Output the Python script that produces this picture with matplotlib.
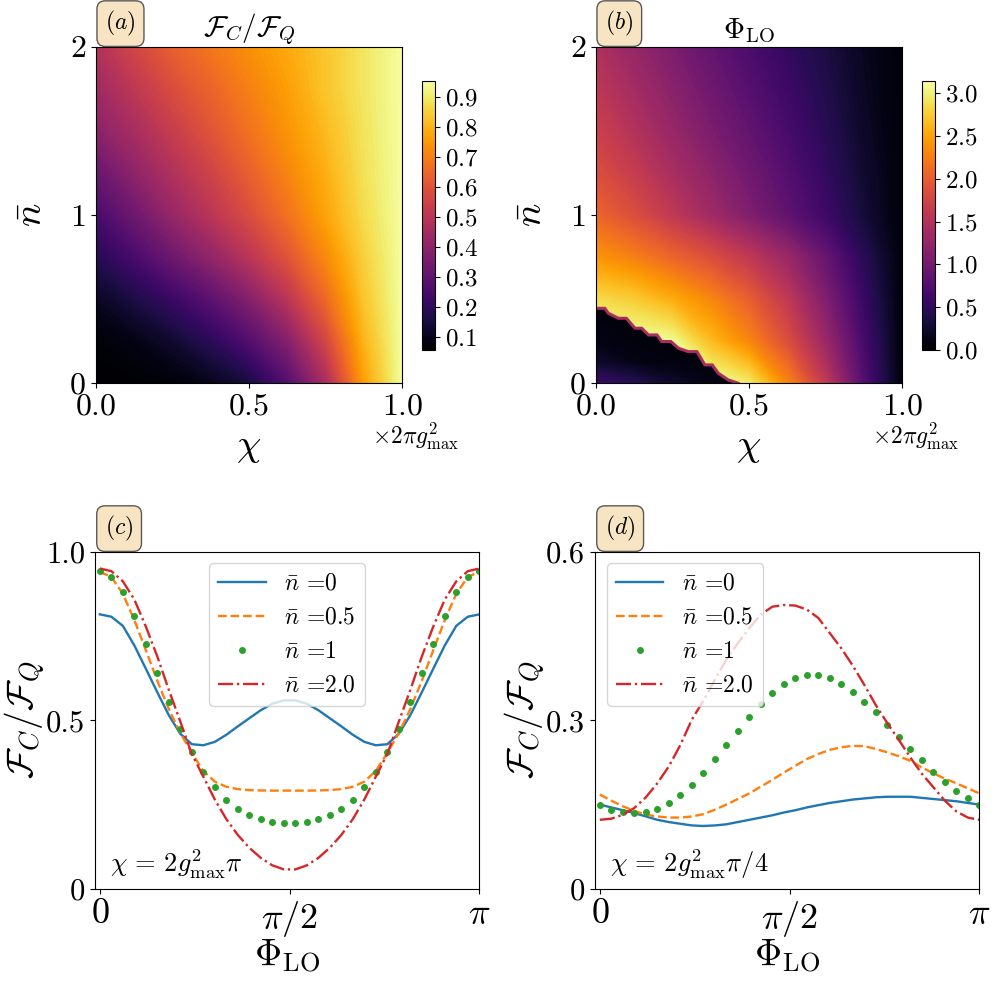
import numpy as np
import matplotlib
matplotlib.use('Agg')
import matplotlib.pyplot as plt
from matplotlib.patches import Polygon
from matplotlib.colors import Normalize
from matplotlib.cm import ScalarMappable

plt.rcParams['font.family'] = 'serif'
plt.rcParams['font.serif'] = ['cmr10']
plt.rcParams['mathtext.fontset'] = 'cm'
plt.rcParams['axes.unicode_minus'] = False
plt.rcParams['axes.formatter.use_mathtext'] = True

# ---- heat maps: values read on a coarse grid (rows = nbar, cols = chi)
chi = np.array([0, 0.125, 0.25, 0.375, 0.5, 0.625, 0.75, 0.875, 1.0])
nbar = np.array([0, 0.25, 0.5, 0.75, 1.0, 1.25, 1.5, 1.75, 2.0])

ratio_map = np.array([
    [0.058, 0.060, 0.070, 0.100, 0.150, 0.270, 0.460, 0.760, 0.945],
    [0.070, 0.090, 0.130, 0.190, 0.270, 0.380, 0.560, 0.800, 0.945],
    [0.110, 0.160, 0.220, 0.290, 0.380, 0.500, 0.650, 0.830, 0.945],
    [0.180, 0.250, 0.330, 0.410, 0.500, 0.600, 0.720, 0.850, 0.945],
    [0.250, 0.330, 0.420, 0.500, 0.580, 0.670, 0.770, 0.870, 0.945],
    [0.320, 0.400, 0.480, 0.550, 0.630, 0.710, 0.790, 0.880, 0.945],
    [0.390, 0.460, 0.530, 0.600, 0.670, 0.740, 0.810, 0.885, 0.945],
    [0.440, 0.510, 0.580, 0.640, 0.700, 0.760, 0.830, 0.890, 0.945],
    [0.480, 0.560, 0.630, 0.680, 0.730, 0.780, 0.830, 0.890, 0.945],
])

phase_map = np.array([
    [3.14, 3.14, 3.14, 3.14, 2.95, 2.30, 1.60, 0.75, 0.05],
    [3.14, 3.14, 3.08, 2.65, 2.30, 1.85, 1.30, 0.65, 0.05],
    [2.85, 2.75, 2.55, 2.30, 2.00, 1.60, 1.10, 0.55, 0.05],
    [2.40, 2.25, 2.05, 1.85, 1.60, 1.30, 0.90, 0.45, 0.05],
    [2.05, 1.85, 1.60, 1.35, 1.10, 0.85, 0.60, 0.30, 0.04],
    [1.85, 1.65, 1.42, 1.20, 0.98, 0.76, 0.52, 0.26, 0.04],
    [1.70, 1.50, 1.28, 1.07, 0.87, 0.67, 0.45, 0.22, 0.03],
    [1.58, 1.38, 1.17, 0.97, 0.78, 0.59, 0.40, 0.19, 0.03],
    [1.47, 1.27, 1.07, 0.88, 0.70, 0.52, 0.35, 0.17, 0.03],
])

# region below the phase jump in (b)
chi_low = np.array([0, 0.125, 0.25, 0.375, 0.5])
nbar_low = np.array([0, 0.125, 0.25, 0.375, 0.5])
phase_low = np.array([
    [0.60, 0.45, 0.25, 0.12, 0.08],
    [0.25, 0.12, 0.08, 0.07, 0.07],
    [0.12, 0.07, 0.06, 0.06, 0.06],
    [0.08, 0.06, 0.06, 0.06, 0.06],
    [0.08, 0.06, 0.06, 0.06, 0.06],
])
# jagged edge of the jump, read along the staircase
edge_chi = [0.0, 0.030, 0.041, 0.074, 0.100, 0.128, 0.150, 0.172, 0.200, 0.215, 0.245,
            0.270, 0.302, 0.330, 0.356, 0.380, 0.400, 0.432, 0.465]
edge_nbar = [0.445, 0.445, 0.416, 0.386, 0.386, 0.327, 0.327, 0.287, 0.287, 0.248, 0.248,
             0.208, 0.188, 0.188, 0.109, 0.109, 0.059, 0.020, 0.0]

# ---- line cuts
phi = np.linspace(0, np.pi, 34)

c_n0 = [0.814, 0.807, 0.780, 0.722, 0.653, 0.583, 0.515, 0.460, 0.429, 0.426, 0.436, 0.457,
        0.482, 0.506, 0.530, 0.549, 0.559, 0.559, 0.549, 0.530, 0.506, 0.482, 0.457, 0.436,
        0.426, 0.429, 0.460, 0.515, 0.583, 0.653, 0.722, 0.780, 0.807, 0.814]
c_n05 = [0.940, 0.925, 0.875, 0.797, 0.708, 0.617, 0.533, 0.462, 0.403, 0.350, 0.318, 0.303,
         0.296, 0.293, 0.292, 0.2915, 0.2915, 0.2915, 0.2915, 0.292, 0.293, 0.296, 0.303, 0.318,
         0.350, 0.403, 0.462, 0.533, 0.617, 0.708, 0.797, 0.875, 0.925, 0.940]
c_n1 = [0.943, 0.926, 0.879, 0.810, 0.727, 0.639, 0.553, 0.473, 0.405, 0.348, 0.301, 0.264,
        0.237, 0.219, 0.207, 0.199, 0.195, 0.195, 0.199, 0.207, 0.219, 0.237, 0.264, 0.301,
        0.348, 0.405, 0.473, 0.553, 0.639, 0.727, 0.810, 0.879, 0.926, 0.943]
c_n2 = [0.950, 0.942, 0.912, 0.858, 0.778, 0.689, 0.590, 0.496, 0.400, 0.333, 0.265, 0.207,
        0.160, 0.122, 0.092, 0.070, 0.058, 0.058, 0.070, 0.092, 0.122, 0.160, 0.207, 0.265,
        0.333, 0.400, 0.496, 0.590, 0.689, 0.778, 0.858, 0.912, 0.942, 0.950]

d_n0 = [0.150, 0.145, 0.140, 0.135, 0.129, 0.123, 0.119, 0.116, 0.113, 0.112, 0.113, 0.115,
        0.119, 0.123, 0.127, 0.131, 0.136, 0.140, 0.145, 0.149, 0.153, 0.156, 0.159, 0.161,
        0.163, 0.164, 0.164, 0.164, 0.162, 0.160, 0.158, 0.156, 0.153, 0.150]
d_n05 = [0.168, 0.157, 0.147, 0.139, 0.132, 0.129, 0.127, 0.127, 0.129, 0.133, 0.141, 0.150,
         0.160, 0.170, 0.182, 0.194, 0.207, 0.219, 0.231, 0.240, 0.2475, 0.252, 0.2545, 0.254,
         0.249, 0.243, 0.236, 0.228, 0.216, 0.206, 0.196, 0.188, 0.179, 0.170]
d_n1 = [0.149, 0.1405, 0.136, 0.1346, 0.136, 0.142, 0.1535, 0.168, 0.185, 0.207, 0.231, 0.2555,
        0.2816, 0.306, 0.329, 0.349, 0.365, 0.375, 0.381, 0.381, 0.375, 0.365, 0.350, 0.333,
        0.314, 0.292, 0.270, 0.2496, 0.229, 0.2087, 0.191, 0.175, 0.161, 0.149]
d_n2 = [0.123, 0.125, 0.132, 0.144, 0.163, 0.188, 0.218, 0.256, 0.301, 0.335, 0.372, 0.408,
        0.437, 0.464, 0.488, 0.502, 0.505, 0.504, 0.497, 0.482, 0.455, 0.428, 0.397, 0.363,
        0.327, 0.295, 0.265, 0.234, 0.205, 0.181, 0.157, 0.138, 0.127, 0.123]

labels = [r'$\bar{n}$ =0', r'$\bar{n}$ =0.5', r'$\bar{n}$ =1', r'$\bar{n}$ =2.0']

fig = plt.figure(figsize=(10, 9.85), dpi=100)
ax_a = fig.add_axes([0.0957, 0.6109, 0.3067, 0.3418])
cax_a = fig.add_axes([0.4217, 0.6447, 0.0133, 0.2731])
ax_b = fig.add_axes([0.5957, 0.6109, 0.3067, 0.3418])
cax_b = fig.add_axes([0.9217, 0.6447, 0.0133, 0.2731])
ax_c = fig.add_axes([0.095, 0.0975, 0.3843, 0.3425])
ax_d = fig.add_axes([0.595, 0.0975, 0.3843, 0.3425])

box = dict(boxstyle='round,pad=0.35', facecolor='wheat', edgecolor='0.2', alpha=0.8)

# (a)
norm_a = Normalize(0.058, 0.952)
ax_a.contourf(chi, nbar, ratio_map, levels=np.linspace(0.058, 0.952, 120), cmap='inferno', norm=norm_a)
cb = fig.colorbar(ScalarMappable(norm_a, 'inferno'), cax=cax_a)
cb.set_ticks(np.arange(0.1, 0.95, 0.1))
cb.ax.tick_params(labelsize=18)
ax_a.set_title(r'$\mathcal{F}_C/\mathcal{F}_Q$', fontsize=21)

# (b)
norm_b = Normalize(0, np.pi)
ax_b.contourf(chi, nbar, phase_map, levels=np.linspace(0, np.pi, 120), cmap='inferno', norm=norm_b)
low = ax_b.contourf(chi_low, nbar_low, phase_low, levels=np.linspace(0, np.pi, 120), cmap='inferno', norm=norm_b)
clip = Polygon(list(zip([0.0] + edge_chi, [0.0] + edge_nbar)), closed=True, transform=ax_b.transData)
low.set_clip_path(clip)
ax_b.plot(edge_chi, edge_nbar, color=plt.cm.inferno(0.45), lw=2.2, solid_joinstyle='miter')
cb = fig.colorbar(ScalarMappable(norm_b, 'inferno'), cax=cax_b)
cb.set_ticks(np.arange(0, 3.1, 0.5))
cb.ax.tick_params(labelsize=18)
ax_b.set_title(r'$\Phi_{\rm LO}$', fontsize=21)

for ax, tag in [(ax_a, '(a)'), (ax_b, '(b)')]:
    ax.set_xlim(0, 1)
    ax.set_ylim(0, 2)
    ax.set_xticks([0, 0.5, 1.0])
    ax.set_yticks([0, 1, 2])
    ax.tick_params(labelsize=23)
    ax.set_xlabel(r'$\chi$', fontsize=28)
    ax.set_ylabel(r'$\bar{n}$', fontsize=28)
    ax.xaxis.set_label_coords(0.5, -0.135)
    ax.yaxis.set_label_coords(-0.15, 0.5)
    ax.text(0.9, -0.205, r'$\times 2\pi g_{\rm max}^2$', transform=ax.transAxes, fontsize=17,
            ha='left', va='bottom')
    ax.text(0.031, 1.025, r'$' + tag + '$', transform=ax.transAxes, fontsize=17,
            ha='left', va='bottom', bbox=box)

# (c) and (d)
for ax, data, ymax, yticks, ylabs, note, loc, tag in [
        (ax_c, [c_n0, c_n05, c_n1, c_n2], 1.0, [0, 0.5, 1.0], ['0', '0.5', '1.0'],
         r'$\chi\,=\,2g_{\rm max}^2\pi$', 'upper center', '(c)'),
        (ax_d, [d_n0, d_n05, d_n1, d_n2], 0.6, [0, 0.3, 0.6], ['0', '0.3', '0.6'],
         r'$\chi\,=\,2g_{\rm max}^2\pi/4$', 'upper left', '(d)')]:
    ax.plot(phi, data[0], color='C0', lw=1.7, label=labels[0])
    ax.plot(phi, data[1], color='C1', lw=1.7, ls='--', label=labels[1])
    ax.plot(phi, data[2], color='C2', ls='none', marker='o', ms=4, label=labels[2])
    ax.plot(phi, data[3], color='C3', lw=1.7, ls='-.', label=labels[3])
    ax.set_xlim(-0.04, np.pi)
    ax.set_ylim(0, ymax)
    ax.set_xticks([0, np.pi / 2, np.pi])
    ax.set_xticklabels([r'$0$', r'$\pi/2$', r'$\pi$'])
    ax.set_yticks(yticks)
    ax.set_yticklabels(ylabs)
    ax.tick_params(axis='x', labelsize=26)
    ax.tick_params(axis='y', labelsize=22)
    ax.set_xlabel(r'$\Phi_{\rm LO}$', fontsize=27)
    ax.set_ylabel(r'$\mathcal{F}_C/\mathcal{F}_Q$', fontsize=27)
    ax.xaxis.set_label_coords(0.5, -0.145)
    ax.yaxis.set_label_coords(-0.125, 0.5)
    ax.legend(loc=loc, fontsize=17)
    ax.text(0.04, 0.05, note, transform=ax.transAxes, fontsize=19)
    ax.text(0.026, 1.025, r'$' + tag + '$', transform=ax.transAxes, fontsize=17,
            ha='left', va='bottom', bbox=box)

fig.savefig('out.png', dpi=100)
